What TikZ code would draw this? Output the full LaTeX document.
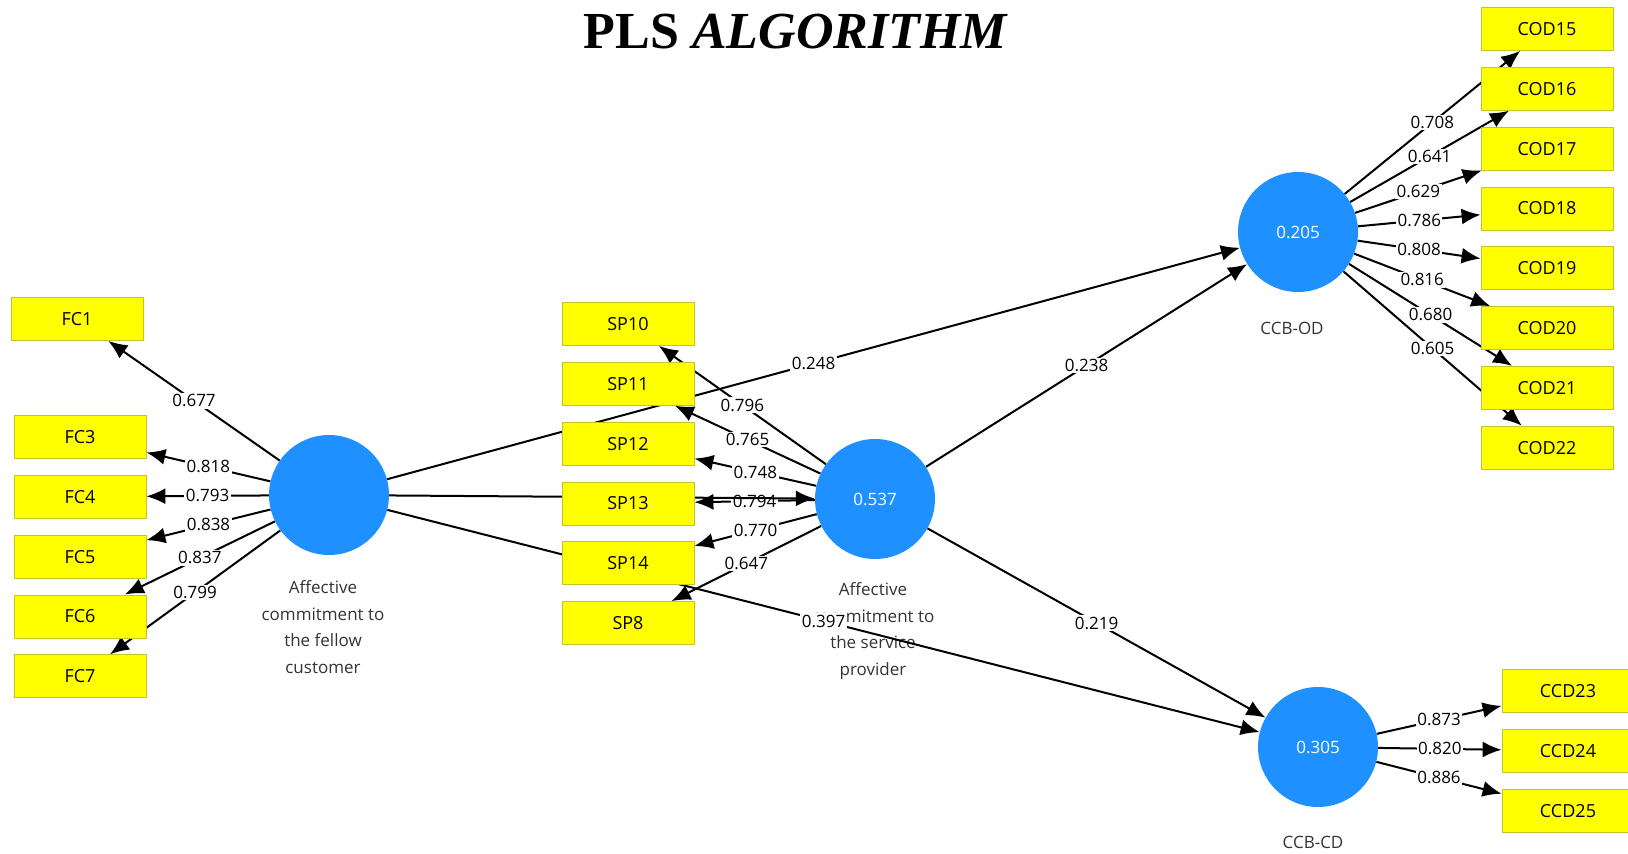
\documentclass[tikz,border=0pt]{standalone}
\usepackage{fontspec}
\setmainfont{Liberation Serif}
\setsansfont{Open Sans}
\usetikzlibrary{arrows.meta}
\usetikzlibrary{positioning}
\definecolor{itemyellow}{RGB}{255,255,0}
\definecolor{itemedge}{RGB}{196,196,40}
\definecolor{lvblue}{RGB}{30,144,255}
\pgfdeclarelayer{names}
\pgfdeclarelayer{paths}
\pgfsetlayers{names,paths,main}
\tikzset{
  indicator/.style={rectangle, fill=itemyellow, draw=itemedge, line width=0.8pt,
    minimum width=132pt, minimum height=43pt, inner sep=0pt,
    font=\sffamily\fontsize{18}{20}\selectfont},
  construct/.style={circle, fill=lvblue, minimum size=120pt, inner sep=0pt,
    text=white, font=\sffamily\fontsize{17}{20}\selectfont},
  lvname/.style={align=center, text=black!80, font=\sffamily\fontsize{17}{26.5}\selectfont},
  load/.style={line width=2pt, -{Latex[length=19pt,width=16pt]}},
  coef/.style={fill=white, inner sep=1.5pt, text=black,
    font=\sffamily\fontsize{17}{20}\selectfont},
}
\begin{document}
\begin{tikzpicture}[x=1pt,y=-1pt,node distance=16pt]
  \useasboundingbox (0,0) rectangle (1628,854);
  \node (title) at (796,48) [anchor=base, font=\fontsize{52}{60}\selectfont\bfseries]
    {PLS \textit{ALGORITHM}};

  % fellow customer
  \node[indicator] (fc1) at (77,319) {FC1};
  \node[indicator] (fc3) at (80,437) {FC3};
  \node[indicator] (fc4) [below=of fc3] {FC4};
  \node[indicator] (fc5) [below=of fc4] {FC5};
  \node[indicator] (fc6) [below=of fc5] {FC6};
  \node[indicator] (fc7) [below=of fc6] {FC7};
  \node[construct] (fc) at (329,495) {};

  % service provider
  \node[indicator] (sp10) at (628,324) {SP10};
  \node[indicator] (sp11) [below=of sp10] {SP11};
  \node[indicator] (sp12) [below=of sp11] {SP12};
  \node[indicator] (sp13) [below=of sp12] {SP13};
  \node[indicator] (sp14) [below=of sp13] {SP14};
  \node[indicator] (sp8) [below=of sp14] {SP8};
  \node[construct] (sp) at (875,499) {0.537};

  % CCB-OD
  \node[indicator] (cod15) at (1547,29) {COD15};
  \node[indicator] (cod16) [below=of cod15] {COD16};
  \node[indicator] (cod17) [below=of cod16] {COD17};
  \node[indicator] (cod18) [below=of cod17] {COD18};
  \node[indicator] (cod19) [below=of cod18] {COD19};
  \node[indicator] (cod20) [below=of cod19] {COD20};
  \node[indicator] (cod21) [below=of cod20] {COD21};
  \node[indicator] (cod22) [below=of cod21] {COD22};
  \node[construct] (od) at (1298,232) {0.205};

  % CCB-CD
  \node[indicator] (ccd23) at (1568,691) {CCD23};
  \node[indicator] (ccd24) [below=of ccd23] {CCD24};
  \node[indicator] (ccd25) [below=of ccd24] {CCD25};
  \node[construct] (cd) at (1318,747) {0.305};

  \begin{pgfonlayer}{names}
    \node[lvname] (fcname) at (323,627) {Affective\\commitment to\\the fellow\\customer};
    \node[lvname] (spname) at (873,631) {Affective\\commitment to\\the service\\provider};
    \node[lvname] (odname) at (1292,328) {CCB-OD};
    \node[lvname] (cdname) at (1313,842) {CCB-CD};
  \end{pgfonlayer}

  \begin{pgfonlayer}{paths}
    % outer loadings
    \draw[load] (fc) -- node[coef] {0.677} (fc1);
    \draw[load] (fc) -- node[coef] {0.818} (fc3);
    \draw[load] (fc) -- node[coef] {0.793} (fc4);
    \draw[load] (fc) -- node[coef] {0.838} (fc5);
    \draw[load] (fc) -- node[coef] {0.837} (fc6);
    \draw[load] (fc) -- node[coef] {0.799} (fc7);

    \draw[load] (sp) -- node[coef] {0.796} (sp10);
    \draw[load] (sp) -- node[coef] {0.765} (sp11);
    \draw[load] (sp) -- node[coef] {0.748} (sp12);
    \draw[load] (sp) -- node[coef] {0.794} (sp13);
    \draw[load] (sp) -- node[coef] {0.770} (sp14);
    \draw[load] (sp) -- node[coef] {0.647} (sp8);

    \draw[load] (od) -- node[coef] {0.708} (cod15);
    \draw[load] (od) -- node[coef] {0.641} (cod16);
    \draw[load] (od) -- node[coef] {0.629} (cod17);
    \draw[load] (od) -- node[coef] {0.786} (cod18);
    \draw[load] (od) -- node[coef] {0.808} (cod19);
    \draw[load] (od) -- node[coef] {0.816} (cod20);
    \draw[load] (od) -- node[coef] {0.680} (cod21);
    \draw[load] (od) -- node[coef] {0.605} (cod22);

    \draw[load] (cd) -- node[coef] {0.873} (ccd23);
    \draw[load] (cd) -- node[coef] {0.820} (ccd24);
    \draw[load] (cd) -- node[coef] {0.886} (ccd25);

    % inner model
    \draw[load] (fc) -- (sp);
    \draw[load] (fc) -- node[coef] {0.248} (od);
    \draw[load] (fc) -- node[coef] {0.397} (cd);
    \draw[load] (sp) -- node[coef] {0.238} (od);
    \draw[load] (sp) -- node[coef] {0.219} (cd);
  \end{pgfonlayer}
\end{tikzpicture}
\end{document}
